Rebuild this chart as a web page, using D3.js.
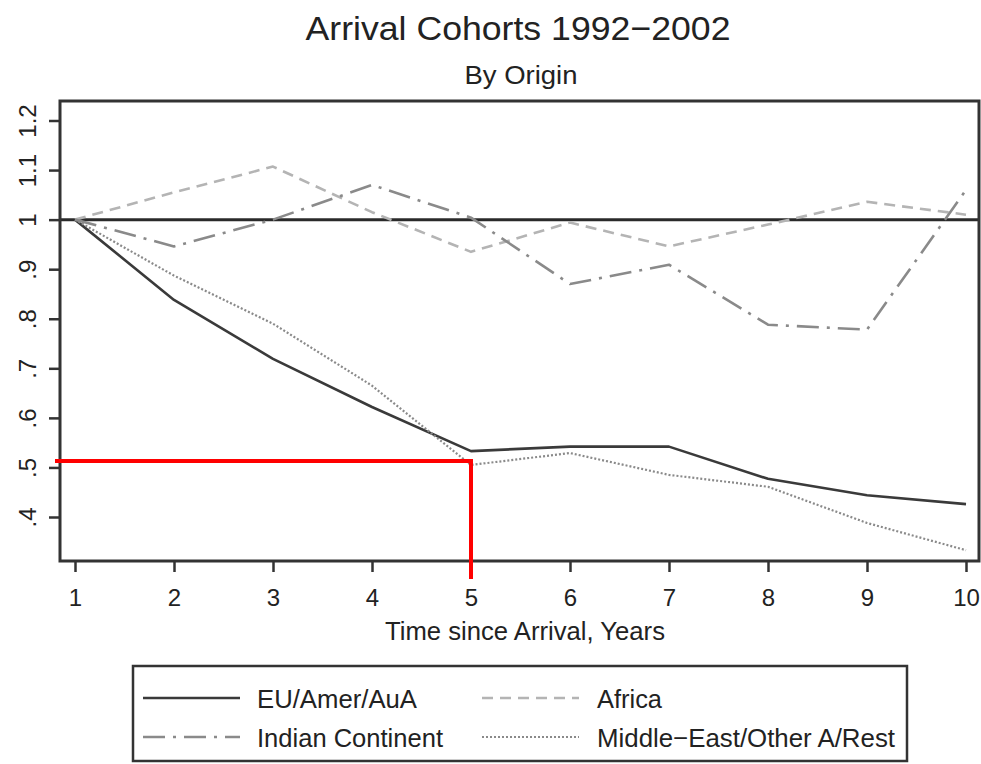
<!DOCTYPE html>
<html>
<head>
<meta charset="utf-8">
<script src="https://cdn.jsdelivr.net/npm/d3@7"></script>
<style>
  html, body { margin: 0; padding: 0; background: #fff; }
  svg { display: block; font-family: "Liberation Sans", Arial, Helvetica, sans-serif; }
</style>
</head>
<body>
<svg id="chart" width="981" height="764"></svg>
<script>
const years = [1, 2, 3, 4, 5, 6, 7, 8, 9, 10];
const euAmerAuA = [1, 0.838, 0.719, 0.622, 0.533, 0.542, 0.542, 0.477, 0.444, 0.426];
const africa = [1, 1.055, 1.107, 1.015, 0.935, 0.994, 0.946, 0.99, 1.036, 1.01];
const indianContinent = [1, 0.946, 1.0, 1.07, 1.004, 0.87, 0.909, 0.788, 0.778, 1.06];
const middleEast = [1, 0.887, 0.79, 0.665, 0.505, 0.529, 0.485, 0.461, 0.388, 0.333];
const yTickValues = [0.4, 0.5, 0.6, 0.7, 0.8, 0.9, 1, 1.1, 1.2];
const yTickLabels = [".4", ".5", ".6", ".7", ".8", ".9", "1", "1.1", "1.2"];
const seriesNames = ["EU/Amer/AuA", "Africa", "Indian Continent", "Middle\u2212East/Other A/Rest"];
const titleText = "Arrival Cohorts 1992\u22122002";
const subtitleText = "By Origin";
const xAxisTitle = "Time since Arrival, Years";
const markerYear = 5;
const markerValue = 0.513;

const svg = d3.select("#chart");
const box = {left: 60, right: 979, top: 101, bottom: 561};

const x = d3.scaleLinear().domain([1, 10]).range([75, 966]);
const y = d3.scaleLinear().domain([0.4, 1.2]).range([517, 120.5]);

const styles = [
  {name: seriesNames[0], data: euAmerAuA, color: "#3a3a3a", width: 2.6, dash: null},
  {name: seriesNames[1], data: africa, color: "#b4b4b4", width: 2.6, dash: "11,7"},
  {name: seriesNames[2], data: indianContinent, color: "#8a8a8a", width: 2.6, dash: "22,8,3,8"},
  {name: seriesNames[3], data: middleEast, color: "#8a8a8a", width: 2.2, dash: "2,2"}
];

// title
svg.append("text").attr("x", 518).attr("y", 40).attr("text-anchor", "middle")
  .attr("font-size", 34).attr("fill", "#222")
  .attr("textLength", 425).attr("lengthAdjust", "spacingAndGlyphs").text(titleText);
svg.append("text").attr("x", 521).attr("y", 84).attr("text-anchor", "middle")
  .attr("font-size", 26).attr("fill", "#222")
  .attr("textLength", 113).attr("lengthAdjust", "spacingAndGlyphs").text(subtitleText);

// reference line at 1
svg.append("line").attr("x1", box.left).attr("x2", box.right)
  .attr("y1", y(1)).attr("y2", y(1)).attr("stroke", "#2a2a2a").attr("stroke-width", 3);

// series
const line = d3.line().x((d, i) => x(years[i])).y(d => y(d));
styles.forEach(s => {
  svg.append("path").datum(s.data).attr("d", line).attr("fill", "none")
    .attr("stroke", s.color).attr("stroke-width", s.width)
    .attr("stroke-dasharray", s.dash).attr("stroke-linejoin", "round");
});

// plot frame
svg.append("rect").attr("x", box.left).attr("y", box.top)
  .attr("width", box.right - box.left).attr("height", box.bottom - box.top)
  .attr("fill", "none").attr("stroke", "#333").attr("stroke-width", 3);

// x axis
const xAxis = d3.axisBottom(x).tickValues(years).tickSize(11).tickPadding(6).tickFormat(d3.format("d"));
const gx = svg.append("g").attr("transform", `translate(0,${box.bottom})`).call(xAxis);
gx.select(".domain").remove();
gx.selectAll(".tick line").attr("stroke", "#333").attr("stroke-width", 2.5);
gx.selectAll(".tick text").attr("font-size", 24).attr("fill", "#222")
  .attr("font-family", "Liberation Sans, Arial, sans-serif").attr("dy", "0.71em").attr("y", 28);

svg.append("text").attr("x", 525).attr("y", 640).attr("text-anchor", "middle")
  .attr("font-size", 25).attr("fill", "#222")
  .attr("textLength", 280).attr("lengthAdjust", "spacingAndGlyphs").text(xAxisTitle);

// y axis
const yAxis = d3.axisLeft(y).tickValues(yTickValues).tickSize(11)
  .tickFormat((d, i) => yTickLabels[i]);
const gy = svg.append("g").attr("transform", `translate(${box.left},0)`).call(yAxis);
gy.select(".domain").remove();
gy.selectAll(".tick line").attr("stroke", "#333").attr("stroke-width", 2.5);
gy.selectAll(".tick text")
  .attr("font-size", 24).attr("fill", "#222")
  .attr("font-family", "Liberation Sans, Arial, sans-serif")
  .attr("x", null).attr("dy", null)
  .attr("text-anchor", "middle")
  .attr("transform", "translate(-24,0) rotate(-90)");

// red marker lines
svg.append("line").attr("x1", 55).attr("x2", x(markerYear) + 2)
  .attr("y1", y(markerValue)).attr("y2", y(markerValue))
  .attr("stroke", "#ff0000").attr("stroke-width", 4);
svg.append("line").attr("x1", x(markerYear)).attr("x2", x(markerYear))
  .attr("y1", y(markerValue) - 2).attr("y2", 579)
  .attr("stroke", "#ff0000").attr("stroke-width", 4);

// legend
svg.append("rect").attr("x", 133).attr("y", 666).attr("width", 774).attr("height", 95)
  .attr("fill", "none").attr("stroke", "#333").attr("stroke-width", 2.5);
const legendPos = [
  {sx: 143, tx: 257, cy: 698, tw: 160},
  {sx: 482, tx: 597, cy: 698, tw: 65},
  {sx: 143, tx: 257, cy: 737, tw: 186},
  {sx: 482, tx: 597, cy: 737, tw: 298}
];
styles.forEach((s, i) => {
  const p = legendPos[i];
  svg.append("line").attr("x1", p.sx).attr("x2", p.sx + 97).attr("y1", p.cy).attr("y2", p.cy)
    .attr("stroke", s.color).attr("stroke-width", s.width).attr("stroke-dasharray", s.dash);
  svg.append("text").attr("x", p.tx).attr("y", p.cy + 10).attr("font-size", 26).attr("fill", "#222")
    .attr("textLength", p.tw).attr("lengthAdjust", "spacingAndGlyphs").text(s.name);
});
</script>
</body>
</html>
